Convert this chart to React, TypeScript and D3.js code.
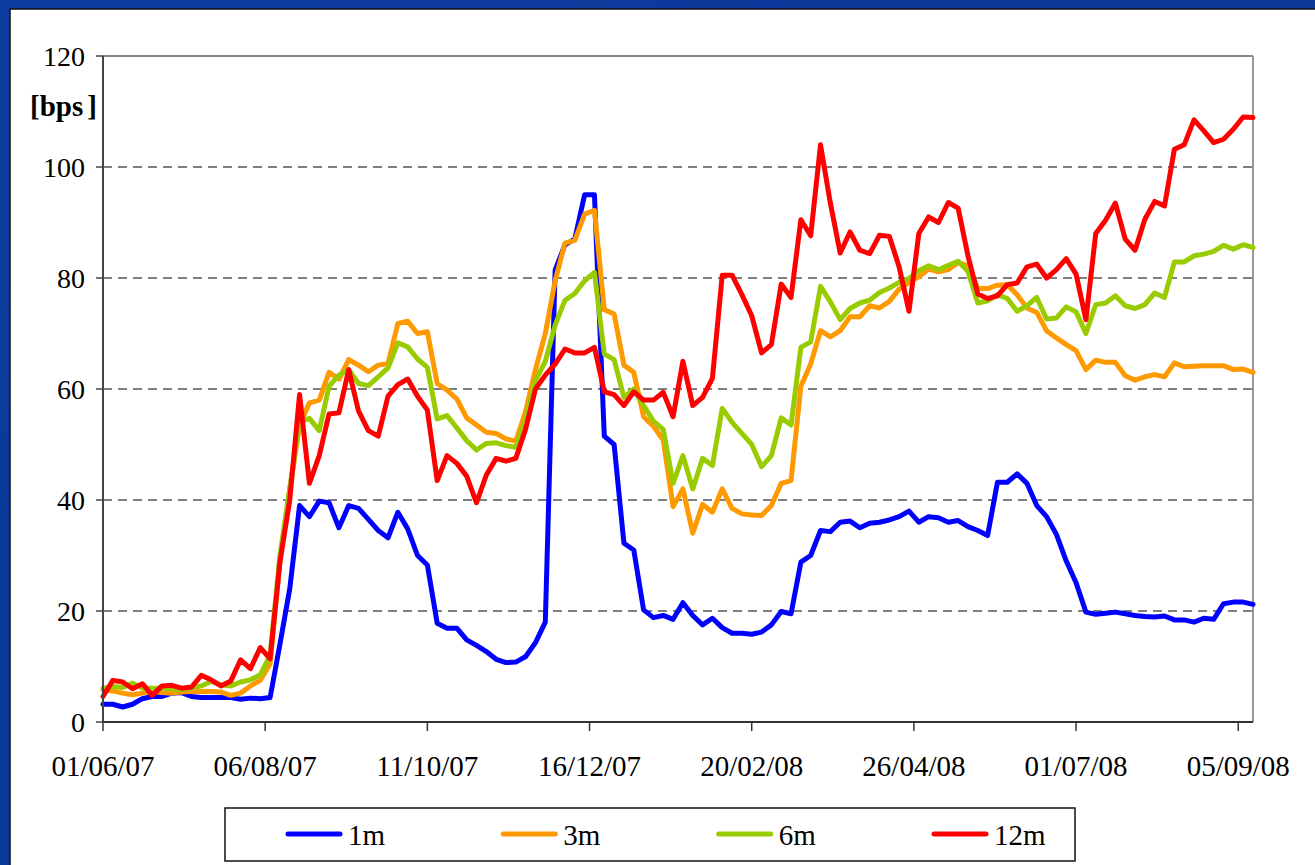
import React from "react";
import * as d3 from "d3";

// Observation dates (every 4 days)
const dates = [
  "2007-06-01","2007-06-05","2007-06-09","2007-06-13","2007-06-17","2007-06-21","2007-06-25","2007-06-29",
  "2007-07-03","2007-07-07","2007-07-11","2007-07-15","2007-07-19","2007-07-23","2007-07-27","2007-07-31",
  "2007-08-04","2007-08-08","2007-08-12","2007-08-16","2007-08-20","2007-08-24","2007-08-28",
  "2007-09-01","2007-09-05","2007-09-09","2007-09-13","2007-09-17","2007-09-21","2007-09-25","2007-09-29",
  "2007-10-03","2007-10-07","2007-10-11","2007-10-15","2007-10-19","2007-10-23","2007-10-27","2007-10-31",
  "2007-11-04","2007-11-08","2007-11-12","2007-11-16","2007-11-20","2007-11-24","2007-11-28",
  "2007-12-02","2007-12-06","2007-12-10","2007-12-14","2007-12-18","2007-12-22","2007-12-26","2007-12-30",
  "2008-01-03","2008-01-07","2008-01-11","2008-01-15","2008-01-19","2008-01-23","2008-01-27","2008-01-31",
  "2008-02-04","2008-02-08","2008-02-12","2008-02-16","2008-02-20","2008-02-24","2008-02-28",
  "2008-03-03","2008-03-07","2008-03-11","2008-03-15","2008-03-19","2008-03-23","2008-03-27","2008-03-31",
  "2008-04-04","2008-04-08","2008-04-12","2008-04-16","2008-04-20","2008-04-24","2008-04-28",
  "2008-05-02","2008-05-06","2008-05-10","2008-05-14","2008-05-18","2008-05-22","2008-05-26","2008-05-30",
  "2008-06-03","2008-06-07","2008-06-11","2008-06-15","2008-06-19","2008-06-23","2008-06-27",
  "2008-07-01","2008-07-05","2008-07-09","2008-07-13","2008-07-17","2008-07-21","2008-07-25","2008-07-29",
  "2008-08-02","2008-08-06","2008-08-10","2008-08-14","2008-08-18","2008-08-22","2008-08-26","2008-08-30",
  "2008-09-03","2008-09-07","2008-09-11",
];

const m1 = [
  3.2, 3.2, 2.7, 3.2, 4.2, 4.6, 4.6, 5.2, 5.3, 4.6,
  4.4, 4.4, 4.4, 4.4, 4.1, 4.3, 4.2, 4.4, 14, 24,
  39, 37, 39.8, 39.5, 35, 39, 38.5, 36.5, 34.5, 33.2,
  37.8, 34.8, 30, 28.3, 17.8, 16.9, 16.9, 14.8, 13.8, 12.7,
  11.3, 10.7, 10.8, 11.8, 14.3, 18, 81.4, 86, 87, 95,
  95, 51.5, 50, 32.2, 31, 20.2, 18.8, 19.2, 18.5, 21.5,
  19.2, 17.5, 18.7, 17, 16, 16, 15.8, 16.2, 17.5, 19.9,
  19.5, 28.8, 30, 34.5, 34.3, 36, 36.2, 35, 35.8, 36,
  36.4, 37, 38, 36, 37, 36.8, 36, 36.3, 35.2, 34.5,
  33.6, 43.2, 43.2, 44.7, 43, 39, 37, 33.8, 29, 25.1,
  19.8, 19.4, 19.6, 19.8, 19.5, 19.2, 19, 18.9, 19.1, 18.4,
  18.4, 18, 18.7, 18.5, 21.3, 21.6, 21.6, 21.2,
];

const m3 = [
  5.8, 5.6, 5.2, 4.9, 5.2, 5.5, 5.3, 5.2, 5.4, 5.5,
  5.5, 5.5, 5.4, 4.8, 5.2, 6.5, 7.5, 10.5, 29, 42,
  53.5, 57.5, 58, 63, 61.8, 65.3, 64.3, 63.1, 64.3, 64.6,
  71.8, 72.2, 70, 70.3, 61, 59.8, 58.2, 54.8, 53.5, 52.2,
  52, 51, 50.6, 56, 63.5, 70, 79.5, 86.3, 86.8, 91.5,
  92.2, 74.3, 73.5, 64.3, 63, 55, 53.3, 50.8, 38.8, 42,
  34, 39.2, 37.8, 42, 38.5, 37.5, 37.3, 37.2, 39, 43,
  43.5, 60.5, 64.5, 70.5, 69.4, 70.5, 73, 73, 75, 74.6,
  75.8, 78, 79.2, 80.2, 81.6, 81.1, 81.5, 82.8, 82.2, 78.1,
  78.1, 78.7, 78.8, 77, 74.6, 73.8, 70.5, 69.2, 68, 66.9,
  63.5, 65.2, 64.8, 64.8, 62.4, 61.6, 62.2, 62.6, 62.2, 64.7,
  64, 64.1, 64.2, 64.2, 64.2, 63.5, 63.6, 63,
];

const m6 = [
  6.1, 6.4, 6.2, 7, 6.1, 6.1, 6.1, 6.0, 5.8, 6.1,
  6.5, 7.3, 6.7, 6.5, 7.2, 7.6, 8.5, 12, 30, 42,
  54, 54.7, 52.5, 60.5, 62.5, 63.5, 61, 60.6, 62.2, 63.8,
  68.3, 67.6, 65.4, 63.9, 54.6, 55.2, 53, 50.7, 49, 50.2,
  50.3, 49.8, 49.5, 54.5, 61.5, 65, 71.5, 76, 77.2, 79.5,
  81, 66.3, 65.3, 58.5, 60, 57, 54.2, 52.7, 43, 48,
  42, 47.5, 46.2, 56.5, 54, 52, 50, 46, 48, 54.8,
  53.5, 67.5, 68.5, 78.5, 75.7, 72.5, 74.5, 75.5, 76, 77.4,
  78.2, 79.2, 79.9, 81.3, 82.2, 81.5, 82.3, 83, 81.2, 75.5,
  75.9, 77, 76.3, 74, 75, 76.5, 72.6, 72.8, 74.8, 73.9,
  70, 75.2, 75.5, 76.8, 75, 74.5, 75.2, 77.3, 76.5, 82.9,
  82.9, 84, 84.3, 84.8, 85.9, 85.2, 86, 85.5,
];

const m12 = [
  4.6, 7.5, 7.2, 6, 6.9, 4.8, 6.5, 6.6, 6.1, 6.3,
  8.4, 7.6, 6.5, 7.4, 11.2, 9.6, 13.4, 11.4, 28.8, 40,
  59, 43, 48, 55.5, 55.7, 63.5, 56, 52.5, 51.5, 58.7,
  60.8, 61.8, 58.7, 56.2, 43.5, 48, 46.6, 44.3, 39.5, 44.5,
  47.5, 47, 47.5, 52.8, 60, 62.5, 64.5, 67.2, 66.5, 66.5,
  67.5, 59.5, 59, 57, 59.5, 58, 58, 59.4, 55, 65,
  57, 58.5, 61.9, 80.5, 80.5, 77, 73.2, 66.5, 68, 78.9,
  76.5, 90.5, 87.6, 104, 93.5, 84.5, 88.3, 85, 84.4, 87.7,
  87.5, 82, 74, 88, 91, 90, 93.6, 92.6, 84, 77.1,
  76.3, 76.8, 78.8, 79.1, 82, 82.5, 80, 81.5, 83.5, 80.7,
  72.5, 88, 90.4, 93.5, 87, 85, 90.6, 93.8, 93, 103.2,
  104, 108.5, 106.5, 104.4, 105, 106.8, 109, 108.9,
];

const seriesNames = ["1m", "3m", "6m", "12m"];
const seriesColors = ["#0000FF", "#FF9900", "#99CC00", "#FF0000"];
const yTicks = [0, 20, 40, 60, 80, 100, 120];
const xTickDates = ["2007-06-01", "2007-08-06", "2007-10-11", "2007-12-16", "2008-02-20", "2008-04-26", "2008-07-01", "2008-09-05"];
const xDomain = ["2007-06-01", "2008-09-11"];
const yUnit = "[bps";

const FONT = "Liberation Serif, DejaVu Serif, serif";

export default function App() {
  const W = 1315, H = 865;
  const left = 103, right = 1253, top = 56, bottom = 722;
  const parse = d3.utcParse("%Y-%m-%d");
  const fmt = d3.utcFormat("%d/%m/%y");
  const x = d3.scaleUtc().domain(xDomain.map((d) => parse(d) as Date)).range([left, right]);
  const y = d3.scaleLinear().domain([0, 120]).range([bottom, top]);
  const parsed = dates.map((d) => parse(d) as Date);
  const series = [m1, m3, m6, m12];
  const line = d3
    .line<number>()
    .x((_, i) => x(parsed[i]))
    .y((d) => y(d));
  const legendX = d3.scaleLinear().domain([0, 3]).range([288, 934]);
  const textStyle = { fontFamily: FONT };

  return (
    <div style={{ position: "absolute", left: 0, top: 0 }}>
      <svg width={W} height={H} style={{ display: "block", fontFamily: FONT }}>
        <defs>
          <linearGradient id="bg" x1="0" y1="0" x2="1" y2="1">
            <stop offset="0" stopColor="#0d3d9f" />
            <stop offset="1" stopColor="#0a3493" />
          </linearGradient>
        </defs>
        <rect x={0} y={0} width={W} height={H} fill="url(#bg)" />
        <rect x={10} y={9} width={W} height={H} fill="#ffffff" stroke="#111" strokeWidth={1.5} />

        {/* gridlines */}
        {yTicks.filter((t) => t > 0 && t < 120).map((t) => (
          <line key={"g" + t} x1={left} x2={right} y1={y(t)} y2={y(t)} stroke="#555" strokeWidth={1.3} strokeDasharray="9,6" />
        ))}
        {/* plot border top/right */}
        <line x1={left} x2={right} y1={y(120)} y2={y(120)} stroke="#888" strokeWidth={2} />
        <line x1={right} x2={right} y1={top} y2={bottom} stroke="#999" strokeWidth={2} />

        {/* series */}
        {series.map((s, k) => (
          <path key={seriesNames[k]} d={line(s) || ""} fill="none" stroke={seriesColors[k]} strokeWidth={5} strokeLinejoin="round" strokeLinecap="round" />
        ))}

        {/* axes */}
        <line x1={left} x2={left} y1={top} y2={bottom} stroke="#444" strokeWidth={2} />
        <line x1={left} x2={right} y1={bottom} y2={bottom} stroke="#333" strokeWidth={2} />
        {yTicks.map((t) => (
          <g key={"y" + t}>
            <line x1={left - 7} x2={left} y1={y(t)} y2={y(t)} stroke="#444" strokeWidth={1.5} />
            <text x={85} y={y(t) + 9.5} textAnchor="end" style={textStyle} fontSize={28} fill="#000">
              {t}
            </text>
          </g>
        ))}
        {xTickDates.map((d) => {
          const px = x(parse(d) as Date);
          return (
            <g key={d}>
              <line x1={px} x2={px} y1={bottom} y2={bottom + 9} stroke="#333" strokeWidth={1.5} />
              <text x={px} y={776} textAnchor="middle" style={textStyle} fontSize={29} fill="#000">
                {fmt(parse(d) as Date)}
              </text>
            </g>
          );
        })}
        <text x={30} y={116} style={textStyle} fontSize={29} fontWeight="bold" fill="#000">
          {yUnit}
          <tspan dx={4}>]</tspan>
        </text>

        {/* legend */}
        <rect x={225} y={808} width={850} height={53} fill="#fff" stroke="#111" strokeWidth={1.5} />
        {seriesNames.map((n, k) => (
          <g key={"l" + n}>
            <line x1={legendX(k)} x2={legendX(k) + 52} y1={834} y2={834} stroke={seriesColors[k]} strokeWidth={5} strokeLinecap="round" />
            <text x={legendX(k) + 60} y={845} style={textStyle} fontSize={29} fill="#000">
              {n}
            </text>
          </g>
        ))}
      </svg>
    </div>
  );
}
